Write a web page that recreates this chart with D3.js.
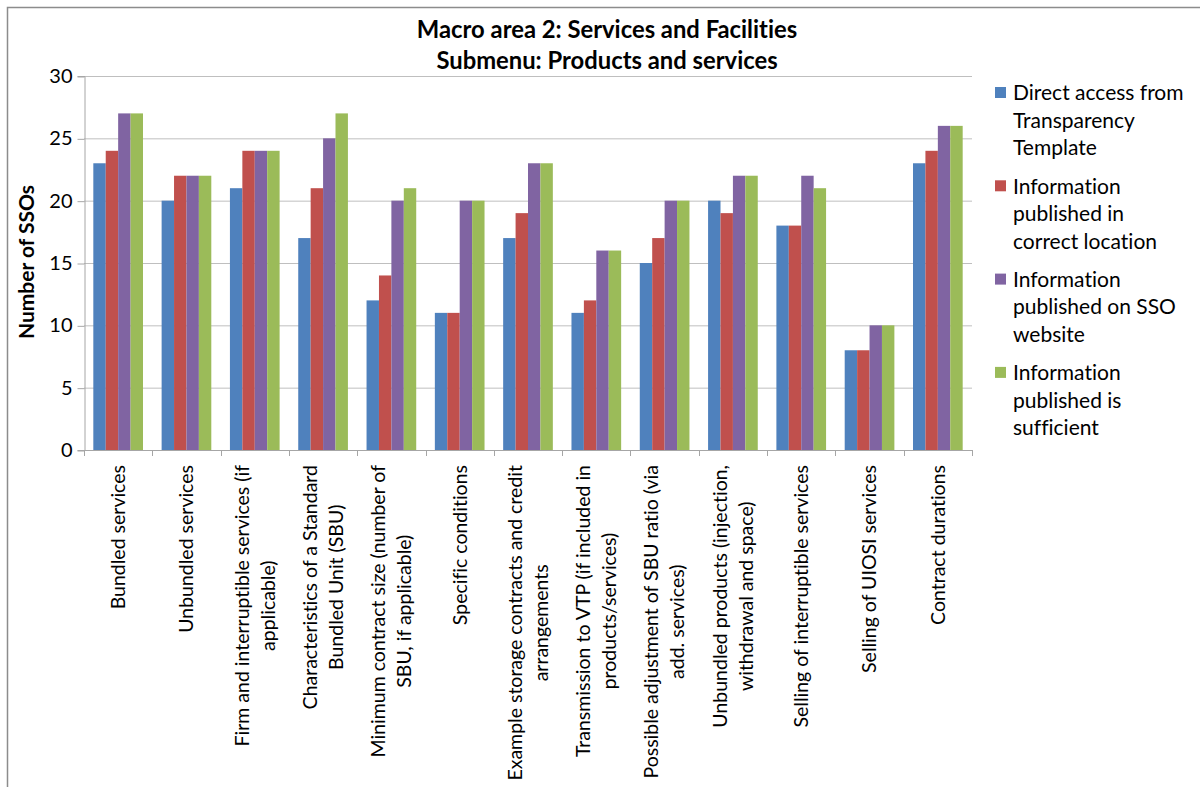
<!DOCTYPE html>
<html>
<head>
<meta charset="utf-8">
<script src="https://cdn.jsdelivr.net/npm/d3@7"></script>
<style>
  body { margin: 0; background: #fff; }
  svg { font-family: Lato, "Open Sans", sans-serif; font-variant-ligatures: none; font-feature-settings: "liga" 0, "dlig" 0; }
</style>
</head>
<body>
<svg></svg>
<script>
// categories (line breaks as they wrap in the picture)
var categories = [
  "Bundled services",
  "Unbundled services",
  "Firm and interruptible services (if\napplicable)",
  "Characteristics of a Standard\nBundled Unit (SBU)",
  "Minimum contract size (number of\nSBU, if applicable)",
  "Specific conditions",
  "Example storage contracts and credit\narrangements",
  "Transmission to VTP (if included in\nproducts/services)",
  "Possible adjustment of SBU ratio (via\nadd. services)",
  "Unbundled products (injection,\nwithdrawal and space)",
  "Selling of interruptible services",
  "Selling of UIOSI services",
  "Contract durations"
]

var seriesNames = [
  "Direct access from\nTransparency\nTemplate",
  "Information\npublished in\ncorrect location",
  "Information\npublished on SSO\nwebsite",
  "Information\npublished is\nsufficient"
]

var directAccess     = [23, 20, 21, 17, 12, 11, 17, 11, 15, 20, 18, 8, 23]
var correctLocation  = [24, 22, 24, 21, 14, 11, 19, 12, 17, 19, 18, 8, 24]
var onWebsite        = [27, 22, 24, 25, 20, 20, 23, 16, 20, 22, 22, 10, 26]
var sufficient       = [27, 22, 24, 27, 21, 20, 23, 16, 20, 22, 21, 10, 26]

var yTicks = [0, 5, 10, 15, 20, 25, 30]

var colors = ["#4F81BD", "#C0504D", "#8064A2", "#9BBB59"]
var seriesValues = [directAccess, correctLocation, onWebsite, sufficient]

var width = 1200, height = 787
var plot = { left: 84, right: 972, top: 76, bottom: 450 }

var svg = d3.select("svg")
    .attr("width", width)
    .attr("height", height)

// outer chart border
svg.append("rect")
    .attr("x", 7.5).attr("y", 7.5)
    .attr("width", 1300).attr("height", 900)
    .attr("fill", "none")
    .attr("stroke", "#8c8c8c")
    .attr("stroke-width", 1.5)

var xScale = d3.scaleBand()
    .domain(d3.range(categories.length))
    .range([plot.left, plot.right])

var xInner = d3.scaleBand()
    .domain(d3.range(seriesValues.length))
    .range([0, xScale.bandwidth()])
    .paddingOuter(0.75)

var yScale = d3.scaleLinear()
    .domain([0, 30])
    .range([plot.bottom, plot.top])

// gridlines
svg.append("g")
    .selectAll("line")
    .data(yTicks.slice(1))
    .enter().append("line")
    .attr("x1", plot.left).attr("x2", plot.right)
    .attr("y1", d => yScale(d) + 0.5).attr("y2", d => yScale(d) + 0.5)
    .attr("stroke", "#bfbfbf")

// y axis
var yAxis = svg.append("g")
    .attr("transform", "translate(" + (plot.left + 0.5) + ",0)")
    .call(d3.axisLeft(yScale).tickValues(yTicks).tickSize(7).tickPadding(5))
yAxis.select(".domain").attr("stroke", "#a6a6a6")
yAxis.selectAll(".tick line").attr("stroke", "#a6a6a6").attr("transform", "translate(0,0.5)")
yAxis.selectAll(".tick text")
    .attr("font-size", 20)
    .attr("fill", "#000")
    .attr("font-family", "Lato, sans-serif")

// bars
var groups = svg.append("g")
    .selectAll("g")
    .data(seriesValues)
    .enter().append("g")
    .attr("fill", (d, i) => colors[i])

groups.each(function(values, s) {
    d3.select(this).selectAll("rect")
        .data(values)
        .enter().append("rect")
        .attr("x", (d, i) => xScale(i) + xInner(s))
        .attr("y", d => yScale(d))
        .attr("width", xInner.bandwidth())
        .attr("height", d => plot.bottom - yScale(d))
})

// x axis line and ticks
var xAxis = svg.append("g")
svg.append("line")
    .attr("x1", plot.left).attr("x2", plot.right)
    .attr("y1", plot.bottom + 0.5).attr("y2", plot.bottom + 0.5)
    .attr("stroke", "#a6a6a6")
xAxis.selectAll("line")
    .data(d3.range(categories.length + 1))
    .enter().append("line")
    .attr("x1", i => Math.round(plot.left + i * xScale.step()) + 0.5)
    .attr("x2", i => Math.round(plot.left + i * xScale.step()) + 0.5)
    .attr("y1", plot.bottom)
    .attr("y2", plot.bottom + 6)
    .attr("stroke", "#a6a6a6")

// category labels, rotated, lines centred on each other
var labelFont = 19.5, lineH = 26, labelTop = 465
categories.forEach(function(c, i) {
    var lines = c.split("\n")
    var g = svg.append("g")
    var texts = lines.map(function(l, k) {
        var cx = xScale(i) + xScale.bandwidth() / 2 + (k - (lines.length - 1) / 2) * lineH
        return g.append("text")
            .attr("font-size", labelFont)
            .attr("text-anchor", "middle")
            .attr("dy", "0.35em")
            .attr("data-cx", cx)
            .text(l)
    })
    var maxW = d3.max(texts, t => t.node().getComputedTextLength())
    texts.forEach(function(t) {
        var cx = +t.attr("data-cx")
        t.attr("transform", "translate(" + cx + "," + (labelTop + maxW / 2) + ") rotate(-90)")
    })
})

// y axis title
svg.append("text")
    .attr("transform", "translate(27,262) rotate(-90)")
    .attr("text-anchor", "middle")
    .attr("dy", "0.35em")
    .attr("font-size", 21)
    .attr("font-weight", "bold")
    .text("Number of SSOs")

// title
var title = ["Macro area 2: Services and Facilities", "Submenu: Products and services"]
svg.append("g")
    .selectAll("text")
    .data(title)
    .enter().append("text")
    .attr("x", 607)
    .attr("y", (d, i) => 30 + i * 31)
    .attr("dy", "0.35em")
    .attr("text-anchor", "middle")
    .attr("font-size", 23.8)
    .attr("font-weight", "bold")
    .text(d => d)

// legend
var legend = svg.append("g")
seriesNames.forEach(function(name, i) {
    var y0 = 93 + i * 93.3
    legend.append("rect")
        .attr("x", 995).attr("y", y0 - 6)
        .attr("width", 11).attr("height", 11)
        .attr("fill", colors[i])
    name.split("\n").forEach(function(l, k) {
        legend.append("text")
            .attr("x", 1013)
            .attr("y", y0 + k * 27.5)
            .attr("dy", "0.35em")
            .attr("font-size", 21)
            .text(l)
    })
})
</script>
</body>
</html>
